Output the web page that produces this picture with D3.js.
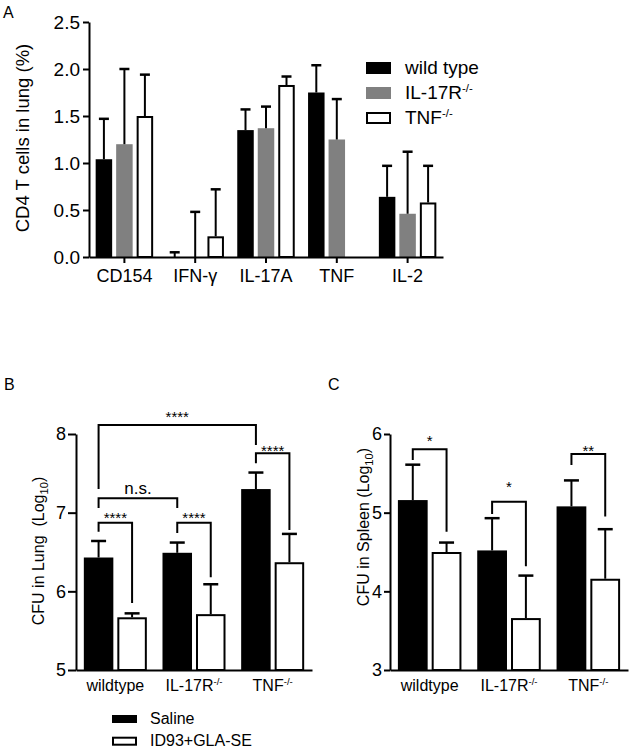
<!DOCTYPE html>
<html><head><meta charset="utf-8">
<script src="https://cdn.jsdelivr.net/npm/d3@7"></script>
<style>
body{margin:0;background:#fff}
svg{display:block}
text{font-family:"Liberation Sans",Arial,Helvetica,sans-serif;fill:#000}
</style>
</head><body>
<svg id="c" width="631" height="750"></svg>
<script>
// ---------- Panel A data ----------
const cytokines = ["CD154", "IFN-γ", "IL-17A", "TNF", "IL-2"];
const strainsA = ["wild type", "IL-17R", "TNF"];
const strainsASup = ["", "-/-", "-/-"];
const meanWT = [1.04, 0.00, 1.35, 1.75, 0.64];
const errWT = [0.43, 0.05, 0.22, 0.29, 0.33];
const meanIL17R = [1.20, 0.00, 1.37, 1.25, 0.46];
const errIL17R = [0.80, 0.48, 0.23, 0.43, 0.66];
const meanTNFko = [1.50, 0.22, 1.83, null, 0.58];
const errTNFko = [0.44, 0.50, 0.09, null, 0.39];
const yTicksA = [0, 0.5, 1.0, 1.5, 2.0, 2.5];

// ---------- Panels B, C data ----------
const groupsBC = ["wildtype", "IL-17R", "TNF"];
const groupsBCSup = ["", "-/-", "-/-"];
const treatments = ["Saline", "ID93+GLA-SE"];
const lungSaline = [6.43, 6.49, 7.30];
const lungSalineErr = [0.21, 0.13, 0.21];
const lungVacc = [5.67, 5.71, 6.37];
const lungVaccErr = [0.05, 0.38, 0.36];
const spleenSaline = [5.16, 4.52, 5.08];
const spleenSalineErr = [0.45, 0.41, 0.33];
const spleenVacc = [4.50, 3.66, 4.16];
const spleenVaccErr = [0.12, 0.54, 0.63];
const yTicksB = [5, 6, 7, 8];
const yTicksC = [3, 4, 5, 6];
// significance brackets: [group, treatment] endpoints, levels in data units
const lungBrackets = [
  {label: "****", a: [0, 0], b: [0, 1], top: 6.873, aEnd: 6.758, bEnd: 5.852, textY: 6.873},
  {label: "****", a: [1, 0], b: [1, 1], top: 6.873, aEnd: 6.742, bEnd: 6.18, textY: 6.873},
  {label: "n.s.", a: [0, 0], b: [1, 0], top: 7.183, aEnd: 7.06, bEnd: 7.06, textY: 7.237},
  {label: "****", a: [0, 0], b: [2, 0], top: 8.114, aEnd: 7.30, bEnd: 7.86, textY: 8.156},
  {label: "****", a: [2, 0], b: [2, 1], top: 7.754, aEnd: 7.627, bEnd: 6.78, textY: 7.72}
];
const spleenBrackets = [
  {label: "*", a: [0, 0], b: [0, 1], top: 5.806, aEnd: 5.67, bEnd: 4.758, textY: 5.847},
  {label: "*", a: [1, 0], b: [1, 1], top: 5.14, aEnd: 4.983, bEnd: 4.32, textY: 5.263},
  {label: "**", a: [2, 0], b: [2, 1], top: 5.746, aEnd: 5.606, bEnd: 4.95, textY: 5.72}
];

// ---------- drawing ----------
const svg = d3.select("#c");
const GRAY = "#808080";

function supText(sel, base, sup) {
  sel.text(null);
  sel.append("tspan").text(base);
  if (sup) {
    sel.append("tspan").attr("font-size", "0.6em").attr("dy", "-0.65em").text(sup);
  }
}
function styleAxis(g, fs) {
  g.attr("font-size", null).attr("font-family", null);
  g.selectAll(".domain").attr("stroke", "#000").attr("stroke-width", 2);
  g.selectAll(".tick line").attr("stroke", "#000").attr("stroke-width", 2);
  g.selectAll(".tick text").attr("font-size", fs).attr("fill", "#000");
}

// ===== Panel A =====
(function () {
  const g = svg.append("g");
  const x0 = d3.scaleBand().domain(cytokines).range([89, 443]).paddingInner(0.188).paddingOuter(0.094);
  const x1 = d3.scaleBand().domain(strainsA).range([0, x0.bandwidth()]).paddingInner(0.195);
  const y = d3.scaleLinear().domain([0, 2.5]).range([257, 22]);
  const series = [
    {key: strainsA[0], mean: meanWT, err: errWT, fill: "#000", stroke: null},
    {key: strainsA[1], mean: meanIL17R, err: errIL17R, fill: GRAY, stroke: null},
    {key: strainsA[2], mean: meanTNFko, err: errTNFko, fill: "#fff", stroke: "#000"}
  ];
  series.forEach(s => {
    const pts = cytokines.map((c, i) => ({c, v: s.mean[i], e: s.err[i]})).filter(d => d.v != null);
    const bw = x1.bandwidth();
    g.selectAll(null).data(pts).enter().append("rect")
      .attr("x", d => x0(d.c) + x1(s.key) + (s.stroke ? 1 : 0))
      .attr("width", bw - (s.stroke ? 2 : 0))
      .attr("y", d => y(d.v) + (s.stroke ? 1 : 0))
      .attr("height", d => Math.max(0, y(0) - y(d.v) - (s.stroke ? 1 : 0)))
      .attr("fill", s.fill)
      .attr("stroke", s.stroke || "none")
      .attr("stroke-width", 2);
    const eb = g.selectAll(null).data(pts).enter().append("g");
    eb.append("line")
      .attr("x1", d => x0(d.c) + x1(s.key) + bw / 2).attr("x2", d => x0(d.c) + x1(s.key) + bw / 2)
      .attr("y1", d => y(d.v)).attr("y2", d => y(d.v + d.e))
      .attr("stroke", "#000").attr("stroke-width", 2);
    eb.append("line")
      .attr("x1", d => x0(d.c) + x1(s.key) + bw / 2 - 5).attr("x2", d => x0(d.c) + x1(s.key) + bw / 2 + 5)
      .attr("y1", d => y(d.v + d.e)).attr("y2", d => y(d.v + d.e))
      .attr("stroke", "#000").attr("stroke-width", 2.5);
  });
  const ya = g.append("g").attr("transform", "translate(89,0)")
    .call(d3.axisLeft(y).tickValues(yTicksA).tickFormat(d3.format(".1f")).tickSize(6).tickSizeOuter(0).tickPadding(3));
  styleAxis(ya, 19);
  const xa = g.append("g").attr("transform", "translate(0,257)")
    .call(d3.axisBottom(x0).tickSize(6).tickSizeOuter(0).tickPadding(6));
  styleAxis(xa, 18);
  g.append("text").attr("transform", "translate(29,138) rotate(-90)")
    .attr("text-anchor", "middle").attr("font-size", 18.5).text("CD4 T cells in lung (%)");
  g.append("text").attr("x", 3).attr("y", 18).attr("font-size", 16).text("A");
  // legend
  const leg = g.append("g");
  series.forEach((s, i) => {
    const ly = 62 + i * 25;
    leg.append("rect").attr("x", s.stroke ? 367 : 366).attr("y", s.stroke ? ly + 1 : ly)
      .attr("width", s.stroke ? 23 : 25).attr("height", s.stroke ? 10 : 12)
      .attr("fill", s.fill).attr("stroke", s.stroke || "none").attr("stroke-width", 2);
    leg.append("text").attr("x", 405).attr("y", ly + 12).attr("font-size", 19)
      .call(t => supText(t, strainsA[i], strainsASup[i]));
  });
})();

// ===== Panels B, C =====
function drawCFU(o) {
  const g = svg.append("g");
  const x0 = d3.scaleBand().domain(groupsBC).range(o.xRange).paddingInner(0.199).paddingOuter(0.0995);
  const x1 = d3.scaleBand().domain(treatments).range([0, x0.bandwidth()]).paddingInner(0.119);
  const y = d3.scaleLinear().domain(o.yDomain).range([670, 434]);
  const bw = x1.bandwidth();
  const cx = (gi, ti) => x0(groupsBC[gi]) + x1(treatments[ti]) + bw / 2;
  const series = [
    {t: 0, mean: o.saline, err: o.salineErr, fill: "#000", stroke: null},
    {t: 1, mean: o.vacc, err: o.vaccErr, fill: "#fff", stroke: "#000"}
  ];
  series.forEach(s => {
    const pts = groupsBC.map((c, i) => ({i, v: s.mean[i], e: s.err[i]}));
    g.selectAll(null).data(pts).enter().append("rect")
      .attr("x", d => cx(d.i, s.t) - bw / 2 + (s.stroke ? 1 : 0))
      .attr("width", bw - (s.stroke ? 2 : 0))
      .attr("y", d => y(d.v) + (s.stroke ? 1 : 0))
      .attr("height", d => y(o.yDomain[0]) - y(d.v) - (s.stroke ? 1 : 0))
      .attr("fill", s.fill).attr("stroke", s.stroke || "none").attr("stroke-width", 2);
    const eb = g.selectAll(null).data(pts).enter().append("g");
    eb.append("line")
      .attr("x1", d => cx(d.i, s.t)).attr("x2", d => cx(d.i, s.t))
      .attr("y1", d => y(d.v)).attr("y2", d => y(d.v + d.e))
      .attr("stroke", "#000").attr("stroke-width", 2);
    eb.append("line")
      .attr("x1", d => cx(d.i, s.t) - 7.5).attr("x2", d => cx(d.i, s.t) + 7.5)
      .attr("y1", d => y(d.v + d.e)).attr("y2", d => y(d.v + d.e))
      .attr("stroke", "#000").attr("stroke-width", 2.5);
  });
  // brackets
  o.brackets.forEach(b => {
    const xa = cx(b.a[0], b.a[1]), xb = cx(b.b[0], b.b[1]);
    g.append("path")
      .attr("d", `M${xa},${y(b.aEnd)}V${y(b.top)}H${xb}V${y(b.bEnd)}`)
      .attr("fill", "none").attr("stroke", "#000").attr("stroke-width", 2);
    g.append("text").attr("x", (xa + xb) / 2).attr("y", y(b.textY))
      .attr("text-anchor", "middle").attr("font-size", b.label === "n.s." ? 17 : 15).text(b.label);
  });
  const ya = g.append("g").attr("transform", `translate(${o.xRange[0]},0)`)
    .call(d3.axisLeft(y).tickValues(o.ticks).tickFormat(d3.format("d")).tickSize(o.tickSize).tickSizeOuter(0).tickPadding(o.tickPad));
  styleAxis(ya, 18);
  const xa = g.append("g").attr("transform", "translate(0,670)")
    .call(d3.axisBottom(x0).tickSize(0).tickSizeOuter(0).tickPadding(9.5));
  styleAxis(xa, 16);
  xa.selectAll(".tick text").each(function (d, i) { supText(d3.select(this), groupsBC[i], groupsBCSup[i]); });
  const tt = g.append("text").attr("transform", `translate(${o.titleX},${o.titleY}) rotate(-90)`)
    .attr("text-anchor", "middle").attr("font-size", 16).style("white-space", "pre");
  tt.append("tspan").text(o.title);
  tt.append("tspan").attr("font-size", "0.7em").attr("dy", "0.35em").text("10");
  tt.append("tspan").attr("dy", "-0.25em").text(")");
  g.append("text").attr("x", o.letterX).attr("y", 390).attr("font-size", 16).text(o.letter);
}

drawCFU({xRange: [76, 312], yDomain: [5, 8], ticks: yTicksB, saline: lungSaline, salineErr: lungSalineErr,
  vacc: lungVacc, vaccErr: lungVaccErr, brackets: lungBrackets, title: "CFU in Lung  (Log",
  tickSize: 8, tickPad: 2, titleX: 44, titleY: 551, letter: "B", letterX: 4});
drawCFU({xRange: [390, 628], yDomain: [3, 6], ticks: yTicksC, saline: spleenSaline, salineErr: spleenSalineErr,
  vacc: spleenVacc, vaccErr: spleenVaccErr, brackets: spleenBrackets, title: "CFU in Spleen (Log",
  tickSize: 6, tickPad: 2, titleX: 369, titleY: 527, letter: "C", letterX: 328});

// legend for B/C
(function () {
  const g = svg.append("g");
  g.append("rect").attr("x", 112).attr("y", 715).attr("width", 25).attr("height", 8).attr("fill", "#000");
  g.append("rect").attr("x", 113).attr("y", 737.7).attr("width", 23).attr("height", 7)
    .attr("fill", "#fff").attr("stroke", "#000").attr("stroke-width", 2);
  g.append("text").attr("x", 150).attr("y", 724).attr("font-size", 16).text(treatments[0]);
  g.append("text").attr("x", 150).attr("y", 746).attr("font-size", 16).text(treatments[1]);
})();
</script>
</body></html>
